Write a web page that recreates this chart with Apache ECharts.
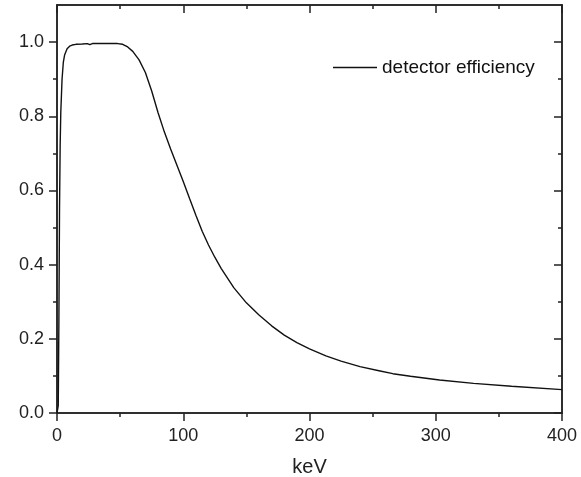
<!DOCTYPE html>
<html>
<head>
<meta charset="utf-8">
<script src="https://cdn.jsdelivr.net/npm/echarts@6/dist/echarts.min.js"></script>
<style>
  html, body { margin: 0; padding: 0; background: #fff; }
  #chart { width: 581px; height: 477px; }
</style>
</head>
<body>
<div id="chart"></div>
<script>
// energy (keV) and detector efficiency
var energy = [0, 1, 1.5, 2, 2.5, 3, 4, 5, 6, 8, 10, 12, 15, 20, 24, 26, 28, 32, 40, 48, 52, 56, 60, 65, 70, 75, 80, 85, 90, 95, 100, 105, 110, 115, 120, 125, 130, 140, 150, 160, 170, 180, 190, 200, 213, 225, 240, 255, 266, 280, 303, 330, 360, 400];
var efficiency = [0, 0.02, 0.25, 0.55, 0.72, 0.81, 0.9, 0.945, 0.965, 0.982, 0.989, 0.992, 0.994, 0.995, 0.996, 0.993, 0.996, 0.996, 0.996, 0.996, 0.994, 0.987, 0.975, 0.952, 0.918, 0.868, 0.81, 0.758, 0.712, 0.668, 0.624, 0.578, 0.533, 0.49, 0.453, 0.42, 0.39, 0.338, 0.297, 0.264, 0.235, 0.21, 0.19, 0.173, 0.154, 0.14, 0.125, 0.114, 0.106, 0.099, 0.089, 0.08, 0.072, 0.063];

var xMajor = [0, 100, 200, 300, 400];
var xMinor = [50, 150, 250, 350];
var yMajor = [0, 0.2, 0.4, 0.6, 0.8, 1.0];
var yMinor = [0.1, 0.3, 0.5, 0.7, 0.9];

var seriesName = 'detector efficiency';
var axisColor = '#222';
var font = 'Liberation Sans, Arial, sans-serif';

var points = energy.map(function (e, i) { return [e, efficiency[i]]; });

function xAxisDef(pos, ticks, len, inside, labels) {
  return {
    type: 'value', position: pos, min: 0, max: 400,
    axisLine: { show: true, onZero: false, lineStyle: { color: axisColor, width: 1.5 } },
    axisTick: { show: true, inside: inside, length: len, customValues: ticks, lineStyle: { color: axisColor, width: 1.5 } },
    axisLabel: labels ? { show: true, customValues: ticks, margin: 14, fontSize: 18, color: axisColor, fontFamily: font } : { show: false },
    splitLine: { show: false }
  };
}

function yAxisDef(pos, ticks, len, inside, labels) {
  return {
    type: 'value', position: pos, min: 0, max: 1.1,
    axisLine: { show: true, onZero: false, lineStyle: { color: axisColor, width: 1.5 } },
    axisTick: { show: true, inside: inside, length: len, customValues: ticks, lineStyle: { color: axisColor, width: 1.5 } },
    axisLabel: labels ? {
      show: true, customValues: ticks, margin: 13, fontSize: 18, color: axisColor, fontFamily: font,
      formatter: function (v) { return v.toFixed(1); }
    } : { show: false },
    splitLine: { show: false }
  };
}

var chart = echarts.init(document.getElementById('chart'));

var bottomAxis = xAxisDef('bottom', xMajor, 8, false, true);
bottomAxis.name = 'keV';
bottomAxis.nameLocation = 'middle';
bottomAxis.nameGap = 44;
bottomAxis.nameTextStyle = { fontSize: 20, color: axisColor, fontFamily: font };

chart.setOption({
  animation: false,
  backgroundColor: '#fff',
  grid: { left: 57, right: 19, top: 5, bottom: 64, containLabel: false, outerBoundsMode: 'none' },
  legend: {
    left: 328, top: 53,
    itemWidth: 44, itemHeight: 14, itemGap: 10,
    textStyle: { fontSize: 19, color: '#111', fontFamily: font },
    data: [{ name: seriesName, icon: 'path://M0,0 L44,0 L44,1.4 L0,1.4 Z' }]
  },
  xAxis: [
    bottomAxis,
    xAxisDef('bottom', xMinor, 4, false, false),
    xAxisDef('top', xMajor, 8, true, false),
    xAxisDef('top', xMinor, 4, true, false)
  ],
  yAxis: [
    yAxisDef('left', yMajor, 8, false, true),
    yAxisDef('left', yMinor, 4, false, false),
    yAxisDef('right', yMajor, 8, true, false),
    yAxisDef('right', yMinor, 4, true, false)
  ],
  series: [{
    name: seriesName,
    type: 'line',
    xAxisIndex: 0,
    yAxisIndex: 0,
    data: points,
    symbol: 'none',
    smooth: false,
    lineStyle: { color: '#111', width: 1.4 },
    itemStyle: { color: '#111' }
  }]
});
</script>
</body>
</html>
